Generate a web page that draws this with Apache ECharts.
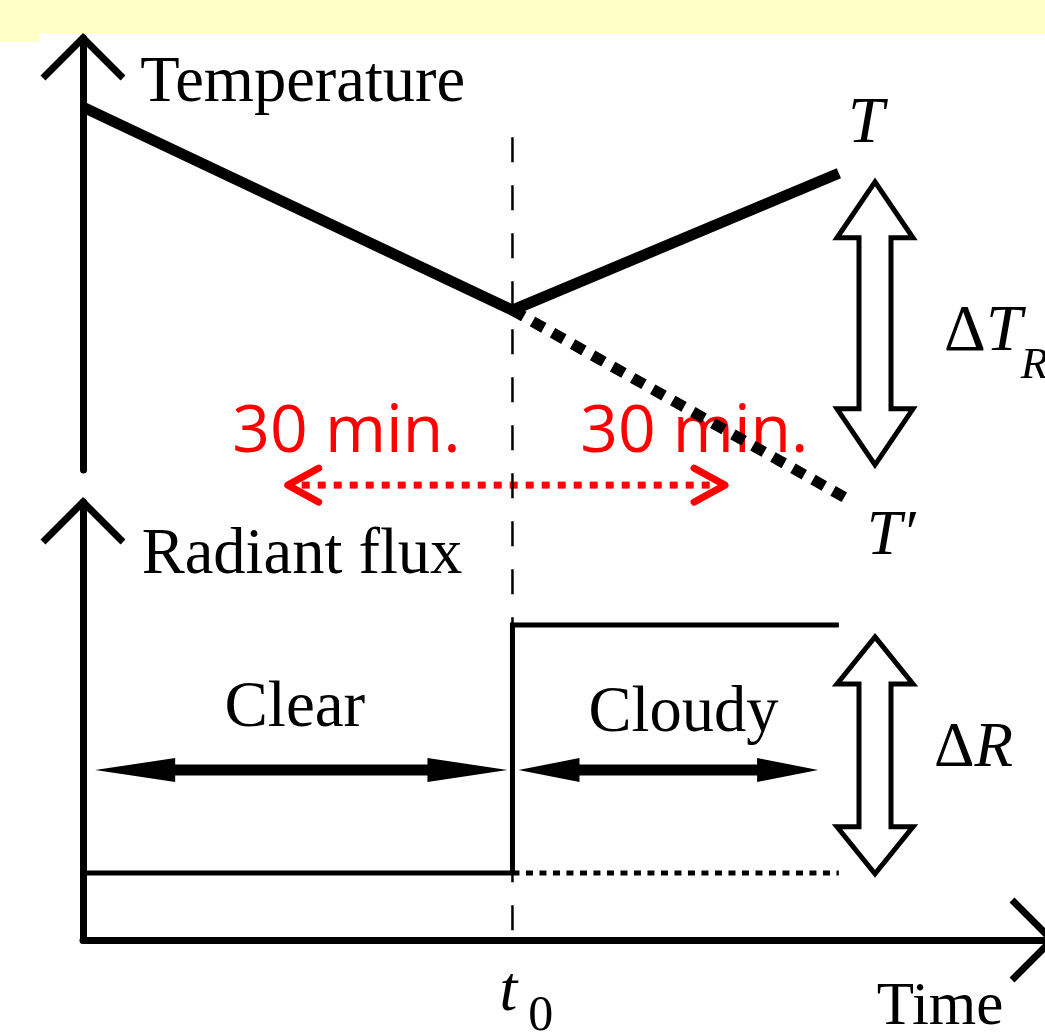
<!DOCTYPE html>
<html><head><meta charset="utf-8">
<script src="https://cdn.jsdelivr.net/npm/echarts@6/dist/echarts.min.js"></script>
<style>html,body{margin:0;padding:0;background:#fff}#c{width:1045px;height:1033px}</style>
</head><body><div id="c"></div>
<script>
// ---------------- data (time in minutes relative to t0, values in arbitrary units) ----------------
const tempTime = [-60, 0, 45.6];            // temperature T (cloud arrives at t0)
const tempValue = [84.0, 37.0, 68.7];
const tempRefTime = [0, 47.0];             // T' (if it had stayed clear)
const tempRefValue = [37.0, -6.9];
const fluxClearTime = [-60, 0];            // radiant flux while clear
const fluxClearValue = [15.3, 15.3];
const fluxCloudyTime = [0, 0, 45.6];       // radiant flux after clouds
const fluxCloudyValue = [15.3, 71.9, 71.9];
const fluxRefTime = [0, 45.6];             // flux reference (clear continued)
const fluxRefValue = [15.3, 15.3];
const t0 = 0;
const windowSpan = [-31.4, 29.7];          // "30 min." on each side of t0
const deltaTSpan = [66.7, 1.2];            // ΔT_R (temperature units)
const deltaRSpan = [69.2, 15.1];           // ΔR (flux units)
const clearSpan = [-58.3, -0.7];
const cloudySpan = [0.84, 42.7];
const labelTemperature = 'Temperature';
const labelFlux = 'Radiant flux';
const labelClear = 'Clear';
const labelCloudy = 'Cloudy';
const labelTime = 'Time';
const labelWindow = '30 min.';

const zip = (a, b) => a.map((x, i) => [x, b[i]]);
const BLACK = '#000';
const RED = '#ff0000';
const SERIF = '"Liberation Serif", "Times New Roman", serif';
const SANS = '"Open Sans", "Noto Sans", sans-serif';

function text(p, str, font, align, fill) {
  return {type: 'text', x: p[0], y: p[1], style: {text: str, font: font, fill: fill || BLACK, align: align || 'left', verticalAlign: 'middle'}};
}
function openDoubleArrow(top, bot, h, W, S) {
  const cx = top[0], yt = top[1], yb = bot[1];
  return {type: 'polygon', shape: {points: [
    [cx, yt], [cx + W, yt + h], [cx + S, yt + h], [cx + S, yb - h], [cx + W, yb - h],
    [cx, yb], [cx - W, yb - h], [cx - S, yb - h], [cx - S, yt + h], [cx - W, yt + h]]},
    style: {fill: '#fff', stroke: BLACK, lineWidth: 5, lineJoin: 'miter'}};
}
function solidDoubleArrow(l, r, L, H, s) {
  const x1 = l[0], x2 = r[0], y = l[1];
  return {type: 'polygon', shape: {points: [
    [x1, y], [x1 + L, y - H], [x1 + L, y - s], [x2 - L, y - s], [x2 - L, y - H],
    [x2, y], [x2 - L, y + H], [x2 - L, y + s], [x1 + L, y + s], [x1 + L, y + H]]},
    style: {fill: BLACK}};
}
function chevron(apex, dx, dy, color, w, cap) {
  return {type: 'polyline', shape: {points: [[apex[0] + dx, apex[1] + dy], apex, [apex[0] + dx, apex[1] - dy]]},
    style: {stroke: color, lineWidth: w, fill: null, lineJoin: cap === 'round' ? 'round' : 'miter', lineCap: cap || 'butt'}};
}

// red "30 min." annotation (drawn below black lines)
function renderWindow(params, api) {
  if (params.dataIndex > 0) return null;
  const v = -3.5;
  const L = api.coord([windowSpan[0], v]), R = api.coord([windowSpan[1], v]);
  return {type: 'group', children: [
    {type: 'line', shape: {x1: L[0] + 14, y1: L[1], x2: R[0] - 12, y2: R[1]},
      style: {stroke: RED, lineWidth: 7, lineDash: [8, 8], lineCap: 'butt'}},
    chevron(L, 31, 17, RED, 7, 'round'),
    chevron(R, -31, 17, RED, 7, 'round'),
    text(api.coord([-23.2, 8.6]), labelWindow, '66px ' + SANS, 'center', RED),
    text(api.coord([25.4, 8.6]), labelWindow, '66px ' + SANS, 'center', RED)
  ]};
}

function renderTempAnno(params, api) {
  if (params.dataIndex > 0) return null;
  const top = api.coord([-60, 100]);
  const ch = [];
  ch.push({type: 'polyline', shape: {points: [[top[0] - 40, top[1] + 40], top, [top[0] + 40, top[1] + 40]]},
    style: {stroke: BLACK, lineWidth: 7, fill: null, lineJoin: 'miter'}});
  ch.push(text(api.coord([-52.0, 89.3]), labelTemperature, '64.5px ' + SERIF));
  ch.push(text(api.coord([49.4, 79.9]), 'T', 'italic 65px ' + SERIF, 'center'));
  ch.push(text(api.coord([49.5, -15.7]), 'T\u2032', 'italic 63px ' + SERIF));
  ch.push(openDoubleArrow(api.coord([50.65, deltaTSpan[0]]), api.coord([50.65, deltaTSpan[1]]), 56, 38, 16));
  const dp = api.coord([60.3, 31.7]);
  ch.push({type: 'text', x: dp[0], y: dp[1], style: {text: '{d|\u0394}{t|T}', align: 'left', verticalAlign: 'middle',
    rich: {d: {font: '65px ' + SERIF, fill: BLACK}, t: {font: 'italic 65px ' + SERIF, fill: BLACK}}}});
  ch.push(text(api.coord([71.0, 24.1]), 'R', 'italic 45px ' + SERIF));
  return {type: 'group', children: ch};
}

function renderFluxAnno(params, api) {
  if (params.dataIndex > 0) return null;
  const top = api.coord([-60, 100]);
  const xEnd = api.coord([74.4, 0]);
  const ch = [];
  // t0 dashed guide spanning both panels
  const dTop = api.coord([t0, 183.3]), dBot = api.coord([t0, 0]);
  ch.push({type: 'line', shape: {x1: dTop[0], y1: dTop[1], x2: dBot[0], y2: dBot[1]},
    style: {stroke: BLACK, lineWidth: 2.5, lineDash: [25, 23]}});
  ch.push({type: 'polyline', shape: {points: [[top[0] - 40, top[1] + 40], top, [top[0] + 40, top[1] + 40]]},
    style: {stroke: BLACK, lineWidth: 7, fill: null, lineJoin: 'miter'}});
  ch.push({type: 'polyline', shape: {points: [[xEnd[0] - 33, xEnd[1] - 40], [xEnd[0] + 7, xEnd[1]], [xEnd[0] - 33, xEnd[1] + 40]]},
    style: {stroke: BLACK, lineWidth: 7, fill: null, lineJoin: 'miter'}});
  ch.push(text(api.coord([-51.8, 87.7]), labelFlux, '64.5px ' + SERIF));
  ch.push(text(api.coord([-30.4, 52.7]), labelClear, '65px ' + SERIF, 'center'));
  ch.push(text(api.coord([23.9, 51.6]), labelCloudy, '64.5px ' + SERIF, 'center'));
  ch.push(solidDoubleArrow(api.coord([clearSpan[0], 38.8]), api.coord([clearSpan[1], 38.8]), 80, 12, 5.5));
  ch.push(solidDoubleArrow(api.coord([cloudySpan[0], 38.8]), api.coord([cloudySpan[1], 38.8]), 61, 12, 5.5));
  ch.push(openDoubleArrow(api.coord([50.65, deltaRSpan[0]]), api.coord([50.65, deltaRSpan[1]]), 47, 38, 16));
  const dp = api.coord([58.9, 43.6]);
  ch.push({type: 'text', x: dp[0], y: dp[1], style: {text: '{d|\u0394}{t|R}', align: 'left', verticalAlign: 'middle',
    rich: {d: {font: '63px ' + SERIF, fill: BLACK}, t: {font: 'italic 63px ' + SERIF, fill: BLACK}}}});
  ch.push(text(api.coord([50.9, -15.5]), labelTime, '61px ' + SERIF));
  ch.push(text(api.coord([-1.8, -12.1]), 't', 'italic 64px ' + SERIF));
  ch.push(text(api.coord([2.2, -17.6]), '0', '50px ' + SERIF));
  return {type: 'group', children: ch};
}

const hiddenX = {type: 'value', min: -60, max: 74.4, axisLine: {show: false}, axisTick: {show: false}, axisLabel: {show: false}, splitLine: {show: false}};
const yAx = (gi) => ({type: 'value', gridIndex: gi, min: 0, max: 100,
  axisLine: {show: true, onZero: false, lineStyle: {color: BLACK, width: 7}},
  axisTick: {show: false}, axisLabel: {show: false}, splitLine: {show: false}});

const lineBase = {type: 'line', symbol: 'none', showSymbol: false, clip: false, silent: true, animation: false};

const option = {
  animation: false,
  backgroundColor: '#fff',
  graphic: [
    {type: 'rect', shape: {x: 0, y: 0, width: 1045, height: 33}, style: {fill: '#ffffc6'}, z: -10},
    {type: 'rect', shape: {x: 0, y: 33, width: 39, height: 9}, style: {fill: '#ffffc6'}, z: -10}
  ],
  grid: [
    {left: 83, top: 38, width: 963, height: 432},
    {left: 83, top: 502, width: 963, height: 438}
  ],
  xAxis: [
    Object.assign({gridIndex: 0}, hiddenX),
    Object.assign({}, hiddenX, {gridIndex: 1, axisLine: {show: true, onZero: false, lineStyle: {color: BLACK, width: 7}}})
  ],
  yAxis: [yAx(0), yAx(1)],
  series: [
    {type: 'custom', xAxisIndex: 0, yAxisIndex: 0, z: 1, silent: true, data: [[0, 0]], renderItem: renderWindow},
    Object.assign({}, lineBase, {name: 'T', xAxisIndex: 0, yAxisIndex: 0, z: 5, data: zip(tempTime, tempValue),
      lineStyle: {color: BLACK, width: 11, cap: 'butt', join: 'miter'}}),
    Object.assign({}, lineBase, {name: "T'", xAxisIndex: 0, yAxisIndex: 0, z: 4, data: zip(tempRefTime, tempRefValue),
      lineStyle: {color: BLACK, width: 11, type: [13, 10], cap: 'butt'}}),
    Object.assign({}, lineBase, {name: 'clear', xAxisIndex: 1, yAxisIndex: 1, z: 5, data: zip(fluxClearTime, fluxClearValue),
      lineStyle: {color: BLACK, width: 5, cap: 'butt'}}),
    Object.assign({}, lineBase, {name: 'cloudy', xAxisIndex: 1, yAxisIndex: 1, z: 5, data: zip(fluxCloudyTime, fluxCloudyValue),
      lineStyle: {color: BLACK, width: 5, cap: 'butt', join: 'miter'}}),
    Object.assign({}, lineBase, {name: 'ref', xAxisIndex: 1, yAxisIndex: 1, z: 4, data: zip(fluxRefTime, fluxRefValue),
      lineStyle: {color: BLACK, width: 5, type: [7, 6.5], cap: 'butt'}}),
    {type: 'custom', xAxisIndex: 0, yAxisIndex: 0, z: 6, silent: true, data: [[0, 0]], renderItem: renderTempAnno},
    {type: 'custom', xAxisIndex: 1, yAxisIndex: 1, z: 6, silent: true, data: [[0, 0]], renderItem: renderFluxAnno}
  ]
};
const chart = echarts.init(document.getElementById('c'));
chart.setOption(option);
</script>
</body></html>
